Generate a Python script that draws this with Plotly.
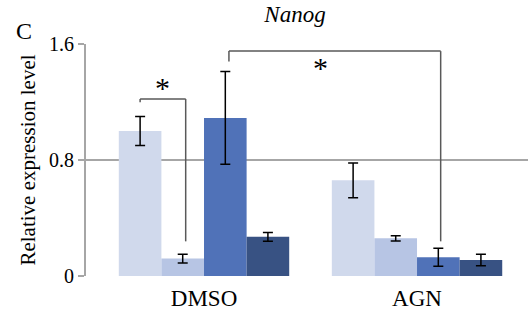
import plotly.graph_objects as go

categories = ["DMSO", "AGN"]
series_names = ["S1", "S2", "S3", "S4"]
values = [
    [1.00, 0.66],
    [0.12, 0.26],
    [1.09, 0.13],
    [0.27, 0.11],
]
errors = [
    [0.10, 0.12],
    [0.03, 0.018],
    [0.32, 0.062],
    [0.03, 0.04],
]
colors = ["#D0D9EC", "#B7C5E4", "#5072B8", "#385283"]
y_ticks = [0, 0.8, 1.6]
y_tick_labels = ["0", "0.8", "1.6"]

FONT = "Liberation Serif"
L, R, T, B = 86, 0, 43.5, 43.5
W, H = 528, 320
PW, PH = W - L - R, H - T - B

fig = go.Figure()
for name, v, e, c in zip(series_names, values, errors, colors):
    fig.add_trace(go.Bar(
        x=[0, 1], y=v, name=name, marker=dict(color=c, line=dict(width=0)),
        error_y=dict(type="data", array=e, visible=True, color="black",
                     thickness=1.5, width=5),
    ))

line_col = "#595959"
def bracket(x0, x1, ytop, yl, yr):
    for (xa, ya, xb, yb) in [(x0, yl, x0, ytop), (x0, ytop, x1, ytop), (x1, ytop, x1, yr)]:
        fig.add_shape(type="line", x0=xa, y0=ya, x1=xb, y1=yb, xref="x", yref="y",
                      line=dict(color=line_col, width=1.5))

bracket(-0.3, -0.086, 1.221, 1.198, 0.239)
bracket(0.117, 1.111, 1.551, 1.48, 0.239)
fig.add_annotation(x=-0.197, y=1.30, text="*", showarrow=False,
                   font=dict(family=FONT, size=30, color="black"))
fig.add_annotation(x=0.548, y=1.44, text="*", showarrow=False,
                   font=dict(family=FONT, size=30, color="black"))
fig.add_annotation(text="C", x=(24 - L) / PW, y=(H - B - 30) / PH, xref="paper", yref="paper",
                   showarrow=False, xanchor="center", yanchor="middle",
                   font=dict(family=FONT, size=24, color="black"))

fig.update_layout(
    width=W, height=H,
    margin=dict(l=L, r=R, t=T, b=B),
    paper_bgcolor="white", plot_bgcolor="white",
    barmode="group", bargap=0.2, bargroupgap=0,
    showlegend=False,
    font=dict(family=FONT, color="black"),
    title=dict(text="<i>Nanog</i>", x=295/528, xanchor="center", y=1 - 14/320, yanchor="middle",
               font=dict(family=FONT, size=23, color="black")),
)
fig.update_xaxes(
    range=[-0.554, 1.521], tickvals=[0, 1], ticktext=categories,
    tickfont=dict(family=FONT, size=23, color="black"),
    showgrid=False, zeroline=False, showline=False, ticks="", ticklabelstandoff=6,
)
fig.update_yaxes(
    range=[0, 1.6], tickvals=y_ticks, ticktext=y_tick_labels,
    tickfont=dict(family=FONT, size=20, color="black"),
    showgrid=True, gridcolor="#A6A6A6", gridwidth=2,
    zeroline=False, showline=True, linecolor="#A6A6A6", linewidth=2,
    ticks="outside", ticklen=6, tickcolor="#A6A6A6", tickwidth=2,
    title=dict(text="Relative expression level", font=dict(family=FONT, size=21, color="black"), standoff=8),
)
fig.write_html("out.html")
